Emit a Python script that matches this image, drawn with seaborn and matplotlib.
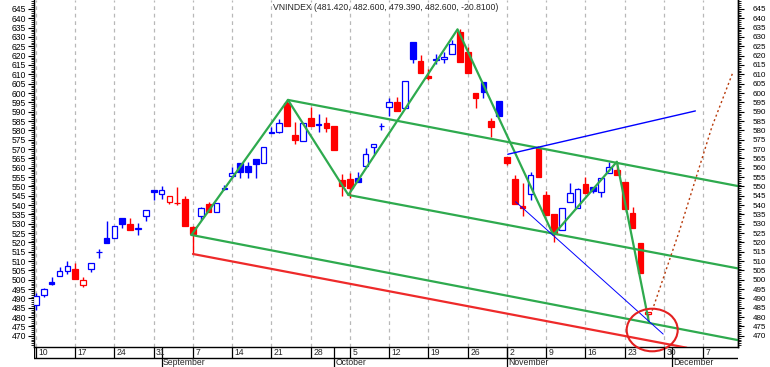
import matplotlib
matplotlib.use("Agg")
import matplotlib.pyplot as plt
from matplotlib.patches import Ellipse
import seaborn as sns
import numpy as np

# ---------------------------------------------------------------------------
# Daily VNINDEX candles, trading-day index 0 = Mon 10 Aug
# ---------------------------------------------------------------------------
opens = [486.4, 491.7, 499.0, 502.2, 504.5, 505.6, 497.4, 505.6, 514.6, 522.4,
         522.4, 533.1, 530.1, 527.3, 534.0, 547.9, 546.1, 541.6, 541.1, 543.2,
         528.4, 534.3, 540.4, 536.1, 548.8, 555.7, 562.4, 560.9, 564.5, 562.4,
         578.8, 579.3, 594.5, 577.5, 574.5, 586.5, 583.5, 584.1, 582.3, 553.4,
         553.8, 554.3, 561.1, 571.2, 582.3, 592.3, 595.0, 591.8, 627.2, 617.1,
         609.1, 617.8, 618.0, 620.7, 632.5, 621.8, 600.2, 606.1, 585.0, 595.7,
         565.9, 553.8, 539.4, 545.9, 570.4, 545.4, 535.2, 526.6, 541.8, 538.3,
         551.3, 549.5, 547.1, 557.0, 558.8, 552.5, 535.5, 519.5, 481.42]
highs = [493.1, 495.8, 501.6, 507.0, 509.8, 509.1, 501.5, 509.1, 516.7, 531.3,
         528.7, 533.1, 533.1, 530.4, 537.2, 547.9, 550.4, 545.0, 549.6, 544.7,
         528.6, 539.1, 541.6, 541.0, 550.7, 560.2, 562.4, 563.2, 564.5, 571.2,
         582.0, 585.9, 596.3, 584.6, 583.8, 592.3, 588.8, 587.3, 582.3, 556.6,
         557.0, 557.5, 570.4, 572.7, 583.8, 597.2, 598.0, 606.4, 627.2, 620.4,
         612.9, 620.9, 622.1, 628.4, 634.1, 624.8, 600.2, 606.1, 586.5, 595.7,
         565.9, 556.1, 551.6, 557.5, 571.5, 547.5, 535.2, 538.3, 552.0, 549.0,
         555.2, 549.5, 554.3, 563.2, 563.2, 552.5, 538.8, 519.5, 482.6]
lows = [483.9, 491.0, 497.2, 502.2, 503.2, 500.6, 496.1, 504.3, 511.4, 519.8,
        522.4, 527.8, 526.5, 524.2, 531.3, 542.9, 543.4, 540.8, 540.2, 528.7,
        513.8, 532.0, 536.4, 536.1, 548.0, 554.3, 554.3, 554.3, 554.3, 562.4,
        578.7, 578.7, 582.5, 572.7, 574.5, 582.5, 579.3, 579.3, 569.5, 544.8,
        543.6, 552.5, 561.1, 567.2, 580.2, 587.9, 590.5, 591.8, 616.3, 610.6,
        607.0, 615.5, 615.9, 620.7, 616.8, 610.6, 591.8, 597.5, 576.6, 587.9,
        561.5, 540.6, 534.1, 542.7, 555.2, 534.7, 520.4, 526.6, 541.8, 538.3,
        546.3, 546.3, 544.5, 557.0, 556.1, 537.7, 527.5, 503.4, 479.39]
closes = [491.3, 494.9, 497.9, 504.5, 507.3, 500.6, 500.0, 509.1, 514.8, 519.8,
          528.7, 529.6, 526.5, 527.4, 537.2, 547.0, 548.2, 545.0, 541.0, 528.7,
          524.5, 538.2, 536.4, 541.0, 549.0, 557.0, 557.5, 557.8, 561.8, 571.2,
          579.0, 583.8, 582.5, 574.8, 583.8, 582.5, 582.8, 581.4, 569.5, 550.2,
          549.3, 552.5, 567.2, 572.7, 582.5, 595.0, 590.5, 606.4, 618.2, 610.6,
          608.2, 618.0, 619.5, 626.1, 616.8, 610.6, 597.5, 600.7, 582.0, 587.9,
          562.4, 540.6, 538.3, 556.1, 555.2, 534.7, 524.9, 538.3, 546.6, 548.4,
          546.3, 547.7, 554.3, 560.5, 556.1, 537.7, 527.5, 503.41, 482.6]
days = np.arange(len(closes))

# weekly axis labels (Mondays) and month starts
week_pos = np.arange(0, 90, 5)
week_labels = ["10", "17", "24", "31", "7", "14", "21", "28", "5", "12",
               "19", "26", "2", "9", "16", "23", "30", "7"]
month_pos = [16, 38, 60, 81]
month_names = ["September", "October", "November", "December"]

# drawn studies
zig_x = [19.8, 32.1, 39.8, 53.7, 65.9, 74.0, 78.1]
zig_y = [524.0, 596.3, 545.4, 634.1, 524.0, 563.2, 477.0]
chan_top_x, chan_top_y = [32.1, 89.4], [596.3, 550.2]
chan_mid_x, chan_mid_y = [39.8, 89.4], [545.4, 506.1]
chan_low_x, chan_low_y = [19.8, 89.4], [524.0, 467.7]
red_x, red_y = [20.0, 82.9], [513.8, 463.6]
blue_up_x, blue_up_y = [60.1, 84.0], [567.2, 590.4]
blue_dn_x, blue_dn_y = [61.1, 79.9], [541.8, 470.9]
proj_x = [78.5, 82.0, 86.1, 88.8]
proj_y = [483.5, 526.6, 581.8, 611.3]
circle_c = (78.5, 473.1)

title = "VNINDEX (481.420, 482.600, 479.390, 482.600, -20.8100)"

sns.set_theme(style="white", rc={"axes.edgecolor": "black", "axes.linewidth": 1.0,
                                 "xtick.color": "black", "ytick.color": "black"})
plt.rcParams["font.family"] = ["Liberation Sans", "DejaVu Sans"]

W, H = 770, 367
fig = plt.figure(figsize=(W / 100, H / 100), dpi=100)
ax = fig.add_axes([34 / W, 20 / H, 704 / W, 347 / H])
xlim = (-0.25, 89.43)
ax.set_xlim(*xlim)
ax.set_ylim(464.0, 649.8)

# weekly dashed grid
for xp in week_pos:
    ax.axvline(xp, color="#b8b8b8", linestyle=(0, (3, 3)), linewidth=0.9, zorder=0)

# candles
prev = [opens[0]] + closes[:-1]
edge = ["#0000ff" if c >= p else "#ff0000" for c, p in zip(closes, prev)]
face = [e if c < o else "white" for e, c, o in zip(edge, closes, opens)]
bottoms = [min(o, c) for o, c in zip(opens, closes)]
heights = [max(abs(c - o), 0.25) for o, c in zip(opens, closes)]
ax.vlines(days, lows, highs, colors=edge, linewidth=1.0, zorder=2)
ax.bar(days, heights, bottom=bottoms, width=0.72, color=face, edgecolor=edge,
       linewidth=0.9, zorder=3)

# studies
green = "#2eaa4e"
sns.lineplot(x=zig_x, y=zig_y, ax=ax, color=green, linewidth=1.6, sort=False, zorder=5)
for lx, ly in [(chan_top_x, chan_top_y), (chan_mid_x, chan_mid_y), (chan_low_x, chan_low_y)]:
    sns.lineplot(x=lx, y=ly, ax=ax, color=green, linewidth=1.6, zorder=5)
sns.lineplot(x=red_x, y=red_y, ax=ax, color="#ee2a2a", linewidth=1.6, zorder=5)
sns.lineplot(x=blue_up_x, y=blue_up_y, ax=ax, color="#0000ff", linewidth=1.0, zorder=5)
sns.lineplot(x=blue_dn_x, y=blue_dn_y, ax=ax, color="#0000ff", linewidth=0.7, zorder=5)
sns.lineplot(x=proj_x, y=proj_y, ax=ax, color="#b83a0a", linewidth=1.0,
             linestyle=(0, (1.5, 2)), sort=False, zorder=5)
ax.add_patch(Ellipse(circle_c, width=6.5, height=22.8, fill=False, edgecolor="#e32020",
                     linewidth=1.5, zorder=6, clip_on=False))

ax.text(0.5, 1 - 7 / 347, title, transform=ax.transAxes, ha="center", va="center",
        fontsize=6.2)

# y axes on both sides
yt = np.arange(470, 650, 5)
ax.set_yticks(yt)
ax.set_yticks(np.arange(465, 650, 1), minor=True)
ax.set_yticklabels([str(v) for v in yt])
ax.tick_params(axis="y", which="major", length=4, width=0.8, pad=1.5, labelsize=6.2)
ax.tick_params(axis="y", which="minor", length=2, width=0.6)
ax.set_xticks([])
ax.set_xlabel("")
ax.set_ylabel("")
ax.spines["top"].set_visible(False)

ax2 = ax.twinx()
ax2.set_ylim(ax.get_ylim())
ax2.set_yticks(yt)
ax2.set_yticks(np.arange(465, 650, 1), minor=True)
ax2.set_yticklabels([str(v) for v in yt])
ax2.tick_params(axis="y", which="major", length=4, width=0.8, pad=6.5, labelsize=5.8)
ax2.tick_params(axis="y", which="minor", length=2, width=0.6)
for s in ["top", "left", "bottom"]:
    ax2.spines[s].set_visible(False)

# date strip under the plot
axd = fig.add_axes([34 / W, 0, 704 / W, 20 / H])
axd.set_xlim(*xlim)
axd.set_ylim(0, 1)
axd.axis("off")
axd.axhline(0.47, color="black", linewidth=1.0)
axd.plot([xlim[0], xlim[0]], [0.47, 1], color="black", linewidth=1.0)
axd.vlines(week_pos, 0.47, 1, colors="black", linewidth=0.9)
axd.vlines(month_pos, 0, 1, colors="black", linewidth=0.9)
for xp, lab in zip(week_pos, week_labels):
    axd.text(xp + 0.3, 0.73, lab, ha="left", va="center", fontsize=6.2)
for xp, lab in zip(month_pos, month_names):
    axd.text(xp + 0.2, 0.22, lab, ha="left", va="center", fontsize=6.2)

fig.savefig("out.png", dpi=100)
